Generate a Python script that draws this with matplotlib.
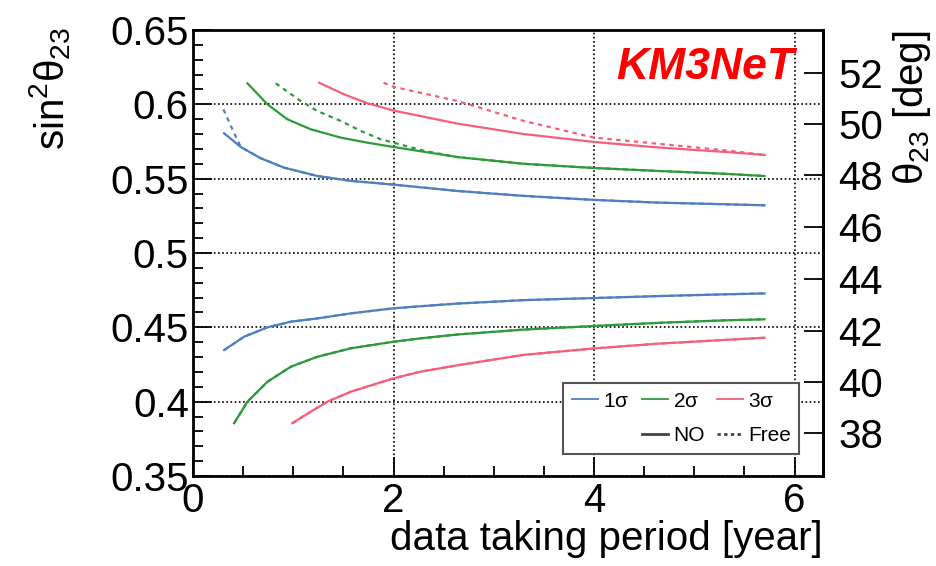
import numpy as np
import matplotlib
matplotlib.use('Agg')
import matplotlib.pyplot as plt
from matplotlib.lines import Line2D

plt.rcParams['font.family'] = ['Liberation Sans', 'DejaVu Sans']
plt.rcParams['mathtext.fontset'] = 'custom'
plt.rcParams['mathtext.rm'] = 'Liberation Sans'
plt.rcParams['mathtext.it'] = 'Liberation Sans'

# sin^2(theta23) contours vs data taking period (years)
# 1 sigma
x_1s_up = [0.31, 0.476, 0.676, 0.908, 1.24, 1.574, 2.0, 2.64, 3.30, 4.0, 4.635, 5.3, 5.7]
y_1s_up = [0.5805, 0.5713, 0.5637, 0.5574, 0.5518, 0.5485, 0.5460, 0.5417, 0.5384, 0.5357, 0.5339, 0.5328, 0.5321]
x_1s_up_free = [0.303, 0.393, 0.476, 0.676, 0.908, 1.24, 1.574, 2.0, 2.64, 3.30, 4.0, 4.635, 5.3, 5.7]
y_1s_up_free = [0.5966, 0.5832, 0.5713, 0.5637, 0.5574, 0.5518, 0.5485, 0.5460, 0.5417, 0.5384, 0.5357, 0.5339, 0.5328, 0.5321]
x_1s_lo = [0.31, 0.51, 0.742, 0.975, 1.24, 1.574, 2.0, 2.27, 2.64, 3.30, 4.0, 4.635, 5.3, 5.7]
y_1s_lo = [0.4347, 0.4437, 0.4500, 0.4538, 0.4560, 0.4594, 0.4628, 0.4642, 0.4660, 0.4683, 0.4697, 0.4710, 0.4722, 0.4728]

# 2 sigma
x_2s_up = [0.543, 0.742, 0.942, 1.175, 1.474, 1.74, 2.0, 2.64, 3.30, 4.0, 4.635, 5.3, 5.7]
y_2s_up = [0.6141, 0.6000, 0.5899, 0.5832, 0.5776, 0.5742, 0.5713, 0.5645, 0.5600, 0.5572, 0.5552, 0.5533, 0.5518]
x_2s_up_free = [0.825, 1.075, 1.24, 1.474, 1.674, 1.873, 2.0, 2.3, 2.64, 3.30, 4.0, 4.635, 5.3, 5.7]
y_2s_up_free = [0.6141, 0.6022, 0.5955, 0.5888, 0.5821, 0.5765, 0.5742, 0.5688, 0.5645, 0.5600, 0.5572, 0.5552, 0.5533, 0.5518]
x_2s_lo = [0.41, 0.543, 0.742, 0.975, 1.24, 1.574, 2.0, 2.27, 2.64, 3.30, 4.0, 4.635, 5.3, 5.7]
y_2s_lo = [0.3855, 0.4000, 0.4134, 0.4235, 0.4302, 0.4359, 0.4403, 0.4426, 0.4452, 0.4485, 0.4509, 0.4530, 0.4547, 0.4554]

# 3 sigma
x_3s_up = [1.258, 1.507, 1.74, 2.0, 2.64, 3.30, 4.0, 4.635, 5.3, 5.7]
y_3s_up = [0.6145, 0.6067, 0.6007, 0.5958, 0.5870, 0.5800, 0.5747, 0.5710, 0.5680, 0.5660]
x_3s_up_free = [1.90, 2.0, 2.64, 3.30, 4.0, 4.635, 5.3, 5.7]
y_3s_up_free = [0.6145, 0.6118, 0.6022, 0.5888, 0.5776, 0.5735, 0.5691, 0.5660]
x_3s_lo = [0.99, 1.175, 1.34, 1.574, 2.0, 2.27, 2.64, 3.30, 4.0, 4.635, 5.3, 5.7]
y_3s_lo = [0.3855, 0.3933, 0.4000, 0.4067, 0.4157, 0.4202, 0.4245, 0.4315, 0.4358, 0.4390, 0.4415, 0.4430]

c_blue = '#4f7fbf'
c_green = '#2e9a3c'
c_red = '#f2607a'

fig = plt.figure(figsize=(9.37, 5.66), dpi=100)
ax = fig.add_axes([0.206, 0.159, 0.672, 0.788])

lw = 1.6
free_ls = (0, (2.0, 2.0))

# NO (solid)
ax.plot(x_1s_up, y_1s_up, color=c_blue, lw=lw)
ax.plot(x_1s_lo, y_1s_lo, color=c_blue, lw=lw)
ax.plot(x_2s_up, y_2s_up, color=c_green, lw=lw)
ax.plot(x_2s_lo, y_2s_lo, color=c_green, lw=lw)
ax.plot(x_3s_up, y_3s_up, color=c_red, lw=lw)
ax.plot(x_3s_lo, y_3s_lo, color=c_red, lw=lw)
# Free (dashed)
ax.plot(x_1s_up_free, y_1s_up_free, color=c_blue, lw=lw, ls=free_ls)
ax.plot(x_1s_lo, y_1s_lo, color=c_blue, lw=lw, ls=free_ls)
ax.plot(x_2s_up_free, y_2s_up_free, color=c_green, lw=lw, ls=free_ls)
ax.plot(x_2s_lo, y_2s_lo, color=c_green, lw=lw, ls=free_ls)
ax.plot(x_3s_up_free, y_3s_up_free, color=c_red, lw=lw, ls=free_ls)
ax.plot(x_3s_lo, y_3s_lo, color=c_red, lw=lw, ls=free_ls)

ax.set_xlim(0, 6.28)
ax.set_ylim(0.35, 0.65)
ax.set_xticks([0, 2, 4, 6])
ax.set_xticks(np.arange(0, 6.3, 0.5), minor=True)
ax.set_yticks([0.35, 0.4, 0.45, 0.5, 0.55, 0.6, 0.65])
ax.set_yticklabels(['0.35', '0.4', '0.45', '0.5', '0.55', '0.6', '0.65'])
ax.set_yticks(np.arange(0.35, 0.651, 0.01), minor=True)
ax.tick_params(axis='both', which='major', direction='in', length=14, width=1.3,
               labelsize=29, top=False, right=False)
ax.tick_params(axis='both', which='minor', direction='in', length=7, width=1.3,
               top=False, right=False)
ax.tick_params(axis='x', which='major', pad=4)
ax.tick_params(axis='y', which='major', pad=3)
for s in ax.spines.values():
    s.set_linewidth(2.0)

ax.grid(True, which='major', color='black', ls=(0, (1.0, 1.5)), lw=1.2)

ax.set_xlabel('data taking period [year]', fontsize=29, loc='right', labelpad=0)
ax.set_ylabel(r'sin$^{2}\theta_{23}$', fontsize=29)
ax.yaxis.set_label_coords(-0.227, 1.007)
ax.yaxis.label.set_horizontalalignment('right')
ax.yaxis.label.set_verticalalignment('center')


def s2t(s):
    return np.degrees(np.arcsin(np.sqrt(np.clip(s, 0, 1))))


def t2s(t):
    return np.sin(np.radians(t)) ** 2


sec = ax.secondary_yaxis('right', functions=(s2t, t2s))
sec.set_yticks([38, 40, 42, 44, 46, 48, 50, 52])
sec.tick_params(direction='in', length=14, width=1.3, labelsize=29, pad=11)
sec.spines['right'].set_linewidth(2.0)
sec.set_ylabel(r'$\theta_{23}$ [deg]', fontsize=29, loc='top', labelpad=6)

ax.text(0.955, 0.915, 'KM3NeT', transform=ax.transAxes, color='#ff0000',
        fontsize=32, fontweight='bold', fontstyle='italic', ha='right', va='center')

handles = [Line2D([], [], color=c_blue, lw=1.3),
           Line2D([], [], color='none'),
           Line2D([], [], color=c_green, lw=1.3),
           Line2D([], [], color='#444444', lw=2.0),
           Line2D([], [], color=c_red, lw=1.3),
           Line2D([], [], color='#444444', lw=2.0, ls=(0, (1.2, 1.2)))]
labels = [r'1$\sigma$', '', r'2$\sigma$', 'NO', r'3$\sigma$', 'Free']
leg = ax.legend(handles, labels, ncol=3, loc='lower right', bbox_to_anchor=(0.963, 0.05),
                fontsize=15, frameon=True, fancybox=False, edgecolor='#555555',
                handlelength=1.25, handletextpad=0.25, columnspacing=0.6,
                labelspacing=0.75, borderpad=0.4, borderaxespad=0.0)
leg.get_frame().set_linewidth(1.5)
leg.get_frame().set_alpha(1.0)

fig.savefig('out.png', dpi=100)
